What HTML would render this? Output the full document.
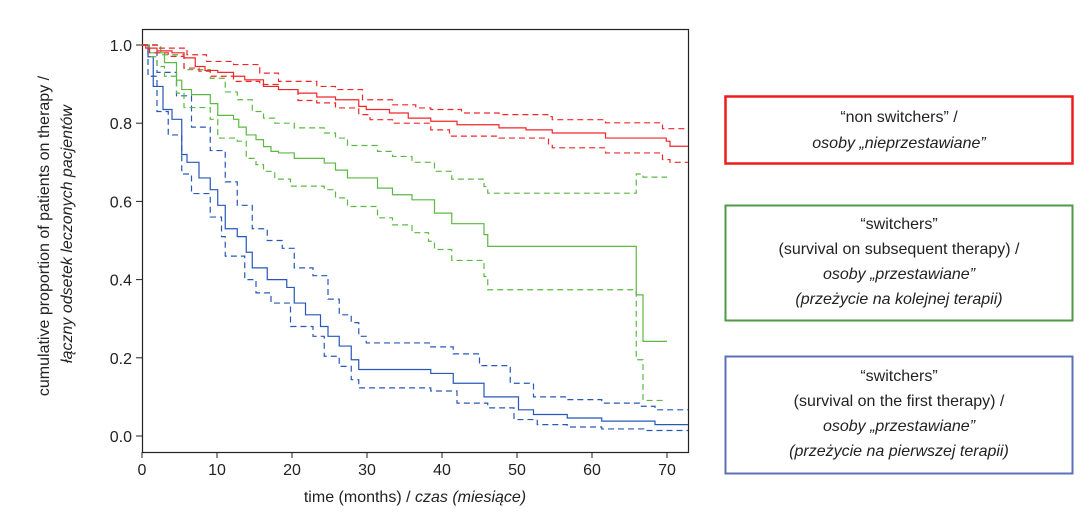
<!DOCTYPE html>
<html><head><meta charset="utf-8"><style>
body{margin:0;background:#fff;width:1092px;height:523px;overflow:hidden;font-family:"Liberation Sans",sans-serif}
svg text{font-family:"Liberation Sans",sans-serif;fill:#222}
</style></head><body>
<svg id="c" width="1092" height="523">
<g id="axes"></g><g id="series"></g>
<g id="legend">
<rect x="725.5" y="96.5" width="347" height="67" fill="none" stroke="#ee1c1c" stroke-width="2.5"/>
<text x="899" y="122" text-anchor="middle" font-size="16">“non switchers” /</text>
<text x="899" y="148" text-anchor="middle" font-size="16" font-style="italic">osoby „nieprzestawiane”</text>
<rect x="725.5" y="205.5" width="347" height="115" fill="none" stroke="#4f9a45" stroke-width="2"/>
<text x="899" y="229" text-anchor="middle" font-size="16">“switchers”</text>
<text x="899" y="254" text-anchor="middle" font-size="16">(survival on subsequent therapy) /</text>
<text x="899" y="279" text-anchor="middle" font-size="16" font-style="italic">osoby „przestawiane”</text>
<text x="899" y="304" text-anchor="middle" font-size="16" font-style="italic">(przeżycie na kolejnej terapii)</text>
<rect x="725.5" y="356.5" width="347" height="117" fill="none" stroke="#5c6fb8" stroke-width="2"/>
<text x="899" y="381" text-anchor="middle" font-size="16">“switchers”</text>
<text x="899" y="406" text-anchor="middle" font-size="16">(survival on the first therapy) /</text>
<text x="899" y="431" text-anchor="middle" font-size="16" font-style="italic">osoby „przestawiane”</text>
<text x="899" y="456" text-anchor="middle" font-size="16" font-style="italic">(przeżycie na pierwszej terapii)</text>
</g>
</svg>
<script>
const xTicks=[0,10,20,30,40,50,60,70];
const yTicks=[0.0,0.2,0.4,0.6,0.8,1.0];
const yTickLabels=["0.0","0.2","0.4","0.6","0.8","1.0"];
const blueT=[0,0.8,1.5,2.8,4,5.3,6,7.6,9.1,10.1,11.1,12.7,13.9,14.7,16.7,19.3,20.3,21.8,23.8,24.8,26.3,27.9,28.9,38.5,41.5,45.6,50.2,52.2,56.7,61.3,68.4,72.8];
const blueS=[1,0.97,0.894,0.835,0.81,0.72,0.70,0.66,0.63,0.59,0.53,0.51,0.47,0.43,0.40,0.38,0.34,0.31,0.28,0.255,0.23,0.195,0.17,0.16,0.135,0.10,0.067,0.055,0.046,0.038,0.029,0.029];
const blueUpT=[0,2,4.6,6.6,9.1,11.1,12.7,14.7,16.7,18.7,20.3,22.8,24.8,26.3,27.9,28.9,29.9,38.5,41.5,45,49.1,52.2,56.7,61.3,66.4,68.4,72.8];
const blueUpS=[1,0.93,0.87,0.79,0.73,0.65,0.59,0.53,0.50,0.48,0.43,0.41,0.35,0.31,0.29,0.255,0.238,0.228,0.21,0.18,0.135,0.10,0.093,0.084,0.076,0.067,0.067];
const blueLoT=[0,0.8,2,3.5,5.3,6.6,9.1,10.6,11.1,13.7,15.2,17.2,19.8,22.8,24.3,26.3,27.9,28.9,38.5,42,46.1,49.6,52.7,56.7,61.3,66.9,72.8];
const blueLoS=[1,0.92,0.83,0.77,0.67,0.62,0.56,0.51,0.46,0.40,0.366,0.34,0.28,0.255,0.204,0.178,0.144,0.123,0.115,0.084,0.072,0.042,0.029,0.023,0.018,0.014,0.014];
const greenT=[0,1,3,4.6,5.3,6.6,9.1,10.1,12.2,12.9,13.9,15.2,16.2,17.2,18.2,20.3,24.3,25.8,27.4,31.4,33.4,36,39,41.3,45.6,46.1,65.9,66.8,70];
const greenS=[1,0.98,0.955,0.91,0.886,0.873,0.85,0.82,0.81,0.79,0.77,0.758,0.74,0.728,0.724,0.71,0.698,0.68,0.66,0.634,0.617,0.604,0.57,0.543,0.515,0.485,0.361,0.242,0.242];
const greenUpT=[0,2.5,5.6,9.1,11.1,12.7,14.7,16.2,17.7,20.3,24.3,25.8,27.4,31.4,33.4,36,39,41.3,45.6,46.1,65.9,66.8,70];
const greenUpS=[1,0.975,0.937,0.915,0.88,0.86,0.83,0.813,0.80,0.788,0.775,0.762,0.743,0.728,0.715,0.70,0.677,0.657,0.638,0.621,0.67,0.662,0.662];
const greenLoT=[0,1,2,3,4.6,5.6,9.1,10.1,12.7,13.9,15.2,16.2,17.7,19.8,24.3,25.8,27.4,31.4,33.4,36,38.2,39,41.3,45.6,46.1,65.9,66.8,69.5];
const greenLoS=[1,0.97,0.945,0.92,0.877,0.84,0.81,0.762,0.754,0.71,0.694,0.677,0.657,0.639,0.63,0.609,0.587,0.558,0.54,0.52,0.498,0.477,0.449,0.408,0.374,0.195,0.091,0.091];
const redT=[0,0.5,2,4,5.6,7.1,8.4,10.1,12.2,13.7,16.2,18.2,20.8,23.3,25.8,28.9,29.9,33,35.5,38.5,42,47.6,51.2,54.7,61.8,69.9,70.4,72.8];
const redS=[1,0.992,0.985,0.98,0.967,0.945,0.935,0.93,0.92,0.911,0.894,0.886,0.877,0.867,0.86,0.843,0.835,0.826,0.813,0.805,0.796,0.788,0.783,0.775,0.762,0.754,0.741,0.741];
const redUpT=[0,2,6,8.6,12.2,15.7,18.2,23.3,25.8,29.4,33.4,36.5,38.5,42.6,47.6,54.2,54.7,61.8,69.4,72.8];
const redUpS=[1,0.992,0.975,0.958,0.95,0.928,0.907,0.894,0.886,0.86,0.847,0.839,0.835,0.826,0.822,0.817,0.809,0.801,0.786,0.786];
const redLoT=[0,1,3.5,5.6,7.6,9.1,12.2,15.7,18.2,20.8,23.3,25.8,28.9,30.4,33.4,38.5,41,47.6,54.2,54.7,61.8,69.4,70.4,72.8];
const redLoS=[1,0.98,0.971,0.941,0.933,0.92,0.907,0.899,0.886,0.858,0.852,0.839,0.822,0.809,0.80,0.783,0.767,0.762,0.745,0.737,0.724,0.707,0.70,0.70];

const X0=142,XR=688,YT=29,YB=452;
const xs=t=>X0+t*7.5;
const ys=v=>436-v*391;
const NS='http://www.w3.org/2000/svg';
function mk(tag,attrs,parent){const e=document.createElementNS(NS,tag);for(const k in attrs)e.setAttribute(k,attrs[k]);parent.appendChild(e);return e;}
const ax=document.getElementById('axes');
const frame=mk('rect',{x:X0+.5,y:YT+.5,width:XR-X0,height:YB-YT,fill:'none',stroke:'#222','stroke-width':1.2},ax);


xTicks.forEach(t=>{
  const l=mk('line',{x1:xs(t),x2:xs(t),y1:YB,y2:YB+6,stroke:'#222'},ax);
  
  
  const tx=mk('text',{x:xs(t),y:YB+23,'text-anchor':'middle','font-size':16},ax);
  tx.textContent=t;
  
  
});
yTicks.forEach((v,i)=>{
  const l=mk('line',{x1:X0-6,x2:X0,y1:ys(v),y2:ys(v),stroke:'#222'},ax);
  
  
  const tx=mk('text',{x:X0-10,y:ys(v)+6,'text-anchor':'end','font-size':16},ax);
  tx.textContent=yTickLabels[i];
  
  
});
const xt=mk('text',{x:415,y:502,'text-anchor':'middle','font-size':16},ax);
xt.innerHTML='time (months) / <tspan font-style="italic">czas (miesiące)</tspan>';


const yt=mk('text',{transform:'translate(49,236) rotate(-90)','text-anchor':'middle','font-size':16},ax);
yt.textContent='cumulative proportion of patients on therapy /';


const yt2=mk('text',{transform:'translate(72,234) rotate(-90)','text-anchor':'middle','font-size':16,'font-style':'italic'},ax);
yt2.textContent='łączny odsetek leczonych pacjentów';



const sg=document.getElementById('series');
function step(T,S,color,dash,name){
  let d='M'+xs(T[0])+','+ys(S[0]);
  for(let i=1;i<T.length;i++){d+=' H'+xs(T[i])+' V'+ys(S[i]);}
  const p=mk('path',{d:d,fill:'none',stroke:color,'stroke-width':1.2},sg);
  if(dash)p.setAttribute('stroke-dasharray','6,4');
  
  
}
const R='#f0272a',G='#5cb843',B='#2757b8';
step(blueUpT,blueUpS,B,true,'blue-upper-ci');
step(blueLoT,blueLoS,B,true,'blue-lower-ci');
step(blueT,blueS,B,false,'blue-survival-line');
step(greenUpT,greenUpS,G,true,'green-upper-ci');
step(greenLoT,greenLoS,G,true,'green-lower-ci');
step(greenT,greenS,G,false,'green-survival-line');
step(redUpT,redUpS,R,true,'red-upper-ci');
step(redLoT,redLoS,R,true,'red-lower-ci');
step(redT,redS,R,false,'red-survival-line');
</script>
</body></html>
